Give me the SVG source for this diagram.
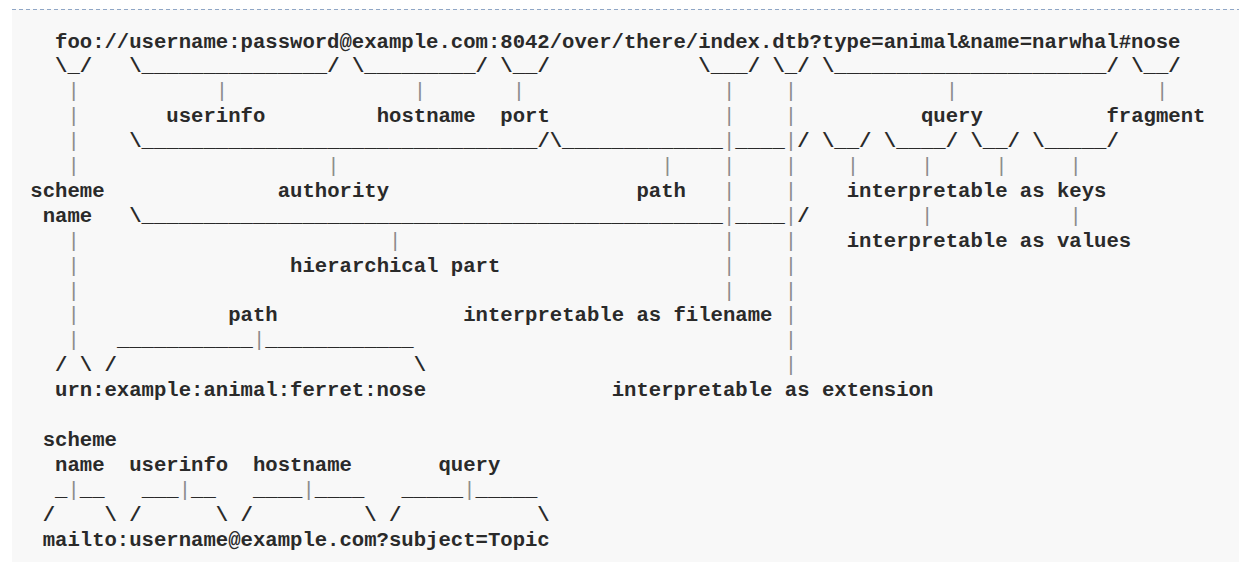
<svg xmlns="http://www.w3.org/2000/svg" width="1239" height="569" viewBox="0 0 1239 569" xml:space="preserve">
<style>
text{font-family:"Liberation Mono","Courier New",monospace;font-size:20.62px;font-weight:bold;fill:#2a2a2a;white-space:pre}
.p{fill:#8c8c8c;font-weight:normal}
</style>
<rect x="12" y="9" width="1227" height="553" fill="#f8f8f8"/>
<line x1="12" y1="9.5" x2="1239" y2="9.5" stroke="#8fa6c6" stroke-width="1" stroke-dasharray="4 3"/>
<g id="uri-http">
<text x="55.04" y="47.5">foo://username:password@example.com:8042/over/there/index.dtb?type=animal&amp;name=narwhal#nose</text>
<g id="brackets-1">
<text x="55.04" y="72.4">\_/</text>
<text x="129.26" y="72.4">\_______________/</text>
<text x="351.92" y="72.4">\_________/</text>
<text x="500.36" y="72.4">\__/</text>
<text x="698.28" y="72.4">\___/</text>
<text x="772.5" y="72.4">\_/</text>
<text x="821.98" y="72.4">\______________________/</text>
<text x="1131.23" y="72.4">\__/</text>
</g>
<g id="pipes-2" class="p">
<text class="p" x="67.41" y="97.3">|</text>
<text class="p" x="215.85" y="97.3">|</text>
<text class="p" x="413.77" y="97.3">|</text>
<text class="p" x="512.73" y="97.3">|</text>
<text class="p" x="723.02" y="97.3">|</text>
<text class="p" x="784.87" y="97.3">|</text>
<text class="p" x="945.68" y="97.3">|</text>
<text class="p" x="1155.97" y="97.3">|</text>
</g>
<g id="labels-3">
<text class="p" x="67.41" y="122.2">|</text>
<text x="166.37" y="122.2">userinfo</text>
<text x="376.66" y="122.2">hostname</text>
<text x="500.36" y="122.2">port</text>
<text class="p" x="723.02" y="122.2">|</text>
<text class="p" x="784.87" y="122.2">|</text>
<text x="920.94" y="122.2">query</text>
<text x="1106.49" y="122.2">fragment</text>
</g>
<g id="brackets-4">
<text class="p" x="67.41" y="147.1">|</text>
<text x="129.26" y="147.1">\________________________________/\_____________<tspan class="p">|</tspan>____<tspan class="p">|</tspan>/</text>
<text x="821.98" y="147.1">\__/</text>
<text x="883.83" y="147.1">\____/</text>
<text x="970.42" y="147.1">\__/</text>
<text x="1032.27" y="147.1">\_____/</text>
</g>
<g id="pipes-5">
<text class="p" x="67.41" y="172">|</text>
<text class="p" x="327.18" y="172">|</text>
<text class="p" x="661.17" y="172">|</text>
<text class="p" x="723.02" y="172">|</text>
<text class="p" x="784.87" y="172">|</text>
<text class="p" x="846.72" y="172">|</text>
<text class="p" x="920.94" y="172">|</text>
<text class="p" x="995.16" y="172">|</text>
<text class="p" x="1069.38" y="172">|</text>
</g>
<g id="labels-6">
<text x="30.3" y="196.9">scheme</text>
<text x="277.7" y="196.9">authority</text>
<text x="636.43" y="196.9">path</text>
<text class="p" x="723.02" y="196.9">|</text>
<text class="p" x="784.87" y="196.9">|</text>
<text x="846.72" y="196.9">interpretable as keys</text>
</g>
<g id="brackets-7">
<text x="42.67" y="221.8">name</text>
<text x="129.26" y="221.8">\_______________________________________________<tspan class="p">|</tspan>____<tspan class="p">|</tspan>/</text>
<text class="p" x="920.94" y="221.8">|</text>
<text class="p" x="1069.38" y="221.8">|</text>
</g>
<g id="labels-8">
<text class="p" x="67.41" y="246.7">|</text>
<text class="p" x="389.03" y="246.7">|</text>
<text class="p" x="723.02" y="246.7">|</text>
<text class="p" x="784.87" y="246.7">|</text>
<text x="846.72" y="246.7">interpretable as values</text>
</g>
<g id="labels-9">
<text class="p" x="67.41" y="271.6">|</text>
<text x="290.07" y="271.6">hierarchical part</text>
<text class="p" x="723.02" y="271.6">|</text>
<text class="p" x="784.87" y="271.6">|</text>
</g>
<g id="pipes-10">
<text class="p" x="67.41" y="296.5">|</text>
<text class="p" x="723.02" y="296.5">|</text>
<text class="p" x="784.87" y="296.5">|</text>
</g>
<g id="labels-11">
<text class="p" x="67.41" y="321.4">|</text>
<text x="228.22" y="321.4">path</text>
<text x="463.25" y="321.4">interpretable as filename</text>
<text class="p" x="784.87" y="321.4">|</text>
</g>
<g id="brackets-12">
<text class="p" x="67.41" y="346.3">|</text>
<text x="116.89" y="346.3">___________<tspan class="p">|</tspan>____________</text>
<text class="p" x="784.87" y="346.3">|</text>
</g>
<g id="brackets-13">
<text x="55.04" y="371.2">/ \ /</text>
<text x="413.77" y="371.2">\</text>
<text class="p" x="784.87" y="371.2">|</text>
</g>
</g>
<g id="uri-urn">
<text x="55.04" y="396.1">urn:example:animal:ferret:nose</text>
<text x="611.69" y="396.1">interpretable as extension</text>
</g>
<g id="uri-mailto">
<text x="42.67" y="445.9">scheme</text>
<text x="55.04" y="470.8">name</text>
<text x="129.26" y="470.8">userinfo</text>
<text x="252.96" y="470.8">hostname</text>
<text x="438.51" y="470.8">query</text>
<text x="55.04" y="495.7">_<tspan class="p">|</tspan>__</text>
<text x="141.63" y="495.7">___<tspan class="p">|</tspan>__</text>
<text x="252.96" y="495.7">____<tspan class="p">|</tspan>____</text>
<text x="401.4" y="495.7">_____<tspan class="p">|</tspan>_____</text>
<text x="42.67" y="520.6">/    \ /      \ /         \ /           \</text>
<text x="42.67" y="545.5">mailto:username@example.com?subject=Topic</text>
</g>
</svg>
